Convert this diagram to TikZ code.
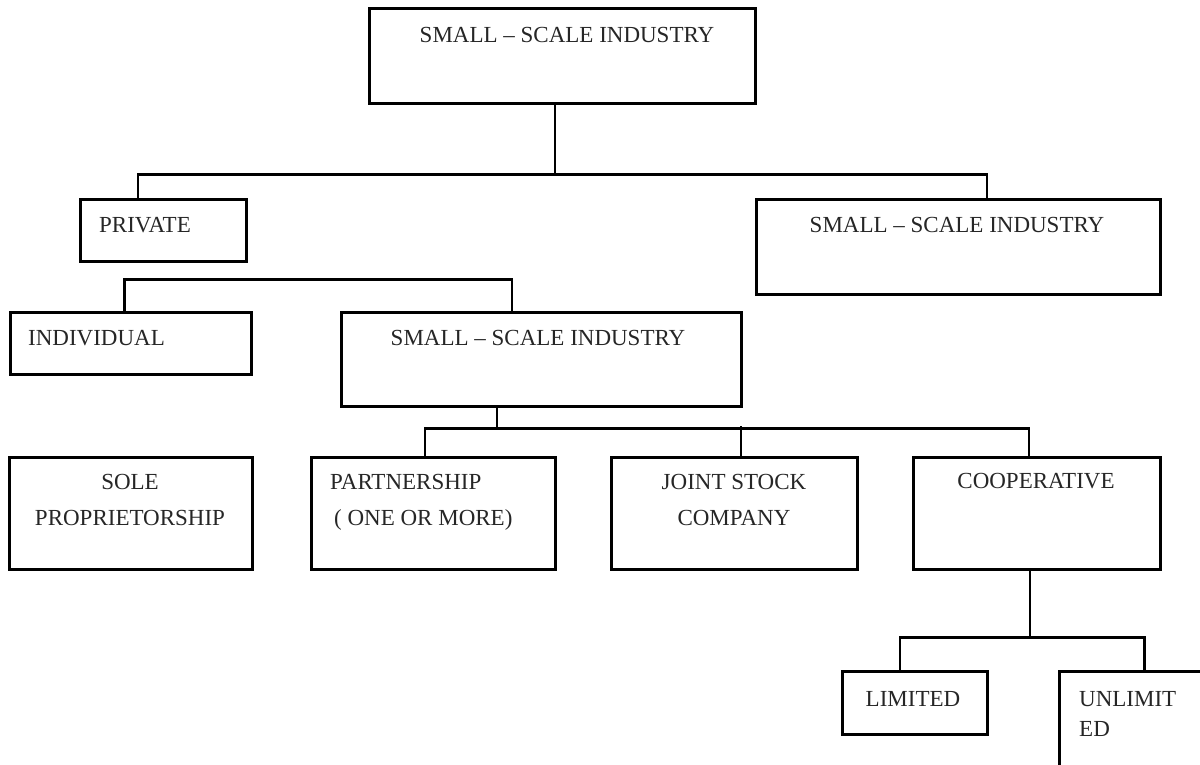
\documentclass[tikz,border=0pt]{standalone}
\usepackage{fontspec}
\setmainfont{Liberation Serif}
\begin{document}
\begin{tikzpicture}[x=1pt,y=-1pt,
  box/.style={draw=black, line width=3pt, rectangle, inner sep=0pt},
  conn/.style={draw=black, line width=2.6pt},
  lbl/.style={inner sep=0pt, font=\fontsize{23}{36}\selectfont, text=black!85}]
\useasboundingbox (0,0) rectangle (1200,765);
\clip (0,0) rectangle (1200,765);
% boxes
\node[box, minimum width=386pt, minimum height=95pt] (top) at (562,56.5) {};
\node[box, minimum width=166pt, minimum height=62pt] (private) at (163,230) {};
\node[box, minimum width=404pt, minimum height=95pt] (right) at (958,246.5) {};
\node[box, minimum width=241pt, minimum height=62pt] (indiv) at (130.5,343) {};
\node[box, minimum width=400pt, minimum height=94pt] (mid) at (541,359) {};
\node[box, minimum width=243pt, minimum height=112pt] (sole) at (130.5,513) {};
\node[box, minimum width=244pt, minimum height=112pt] (partner) at (433,513) {};
\node[box, minimum width=246pt, minimum height=112pt] (joint) at (734,513) {};
\node[box, minimum width=247pt, minimum height=112pt] (coop) at (1036.5,513) {};
\node[box, minimum width=145pt, minimum height=63pt] (limited) at (914.5,702.5) {};
\node[box, minimum width=171pt, minimum height=119pt] (unlim) at (1144.5,730.5) {};
% texts
\node[lbl, anchor=base] (ttop) at (567,43) {SMALL -- SCALE INDUSTRY};
\node[lbl, anchor=base west] (tprivate) at (99,232) {PRIVATE};
\node[lbl, anchor=base] (tright) at (957,232) {SMALL -- SCALE INDUSTRY};
\node[lbl, anchor=base west] (tindiv) at (28,345) {INDIVIDUAL};
\node[lbl, anchor=base] (tmid) at (538,345) {SMALL -- SCALE INDUSTRY};
\node[lbl, anchor=base, align=center] (tsole) at (130,525) {SOLE\\PROPRIETORSHIP};
\node[lbl, anchor=base west, align=left] (tpartner) at (330,525) {PARTNERSHIP\\\hspace*{4pt}( ONE OR MORE)};
\node[lbl, anchor=base, align=center] (tjoint) at (734,525) {JOINT STOCK\\COMPANY};
\node[lbl, anchor=base] (tcoop) at (1036,488) {COOPERATIVE};
\node[lbl, anchor=base] (tlimited) at (913,706) {LIMITED};
\node[lbl, anchor=base west, align=left, font=\fontsize{23}{30}\selectfont] (tunlim) at (1079,736) {UNLIMIT\\ED};
% connectors
\draw[conn] ([xshift=-7pt]top.south) -- ++(0,69) coordinate (j1);
\draw[conn] ([xshift=-25pt]private.north) |- (j1) -| ([xshift=29pt]right.north);
\draw[conn] ([xshift=-6pt]indiv.north) -- ++(0,-31) -| ([xshift=-29pt]mid.north);
\draw[conn] ([xshift=-44pt]mid.south) -- ++(0,21) coordinate (j3);
\draw[conn] ([xshift=-8pt]partner.north) |- (j3) -| ([xshift=-7.5pt]coop.north);
\draw[conn] ([xshift=7pt]joint.north) -- ++(0,-30);
\draw[conn] ([xshift=-6.5pt]coop.south) -- ++(0,67) coordinate (j4);
\draw[conn] ([xshift=-14.5pt]limited.north) |- (j4) -| (unlim.north);
\end{tikzpicture}
\end{document}
